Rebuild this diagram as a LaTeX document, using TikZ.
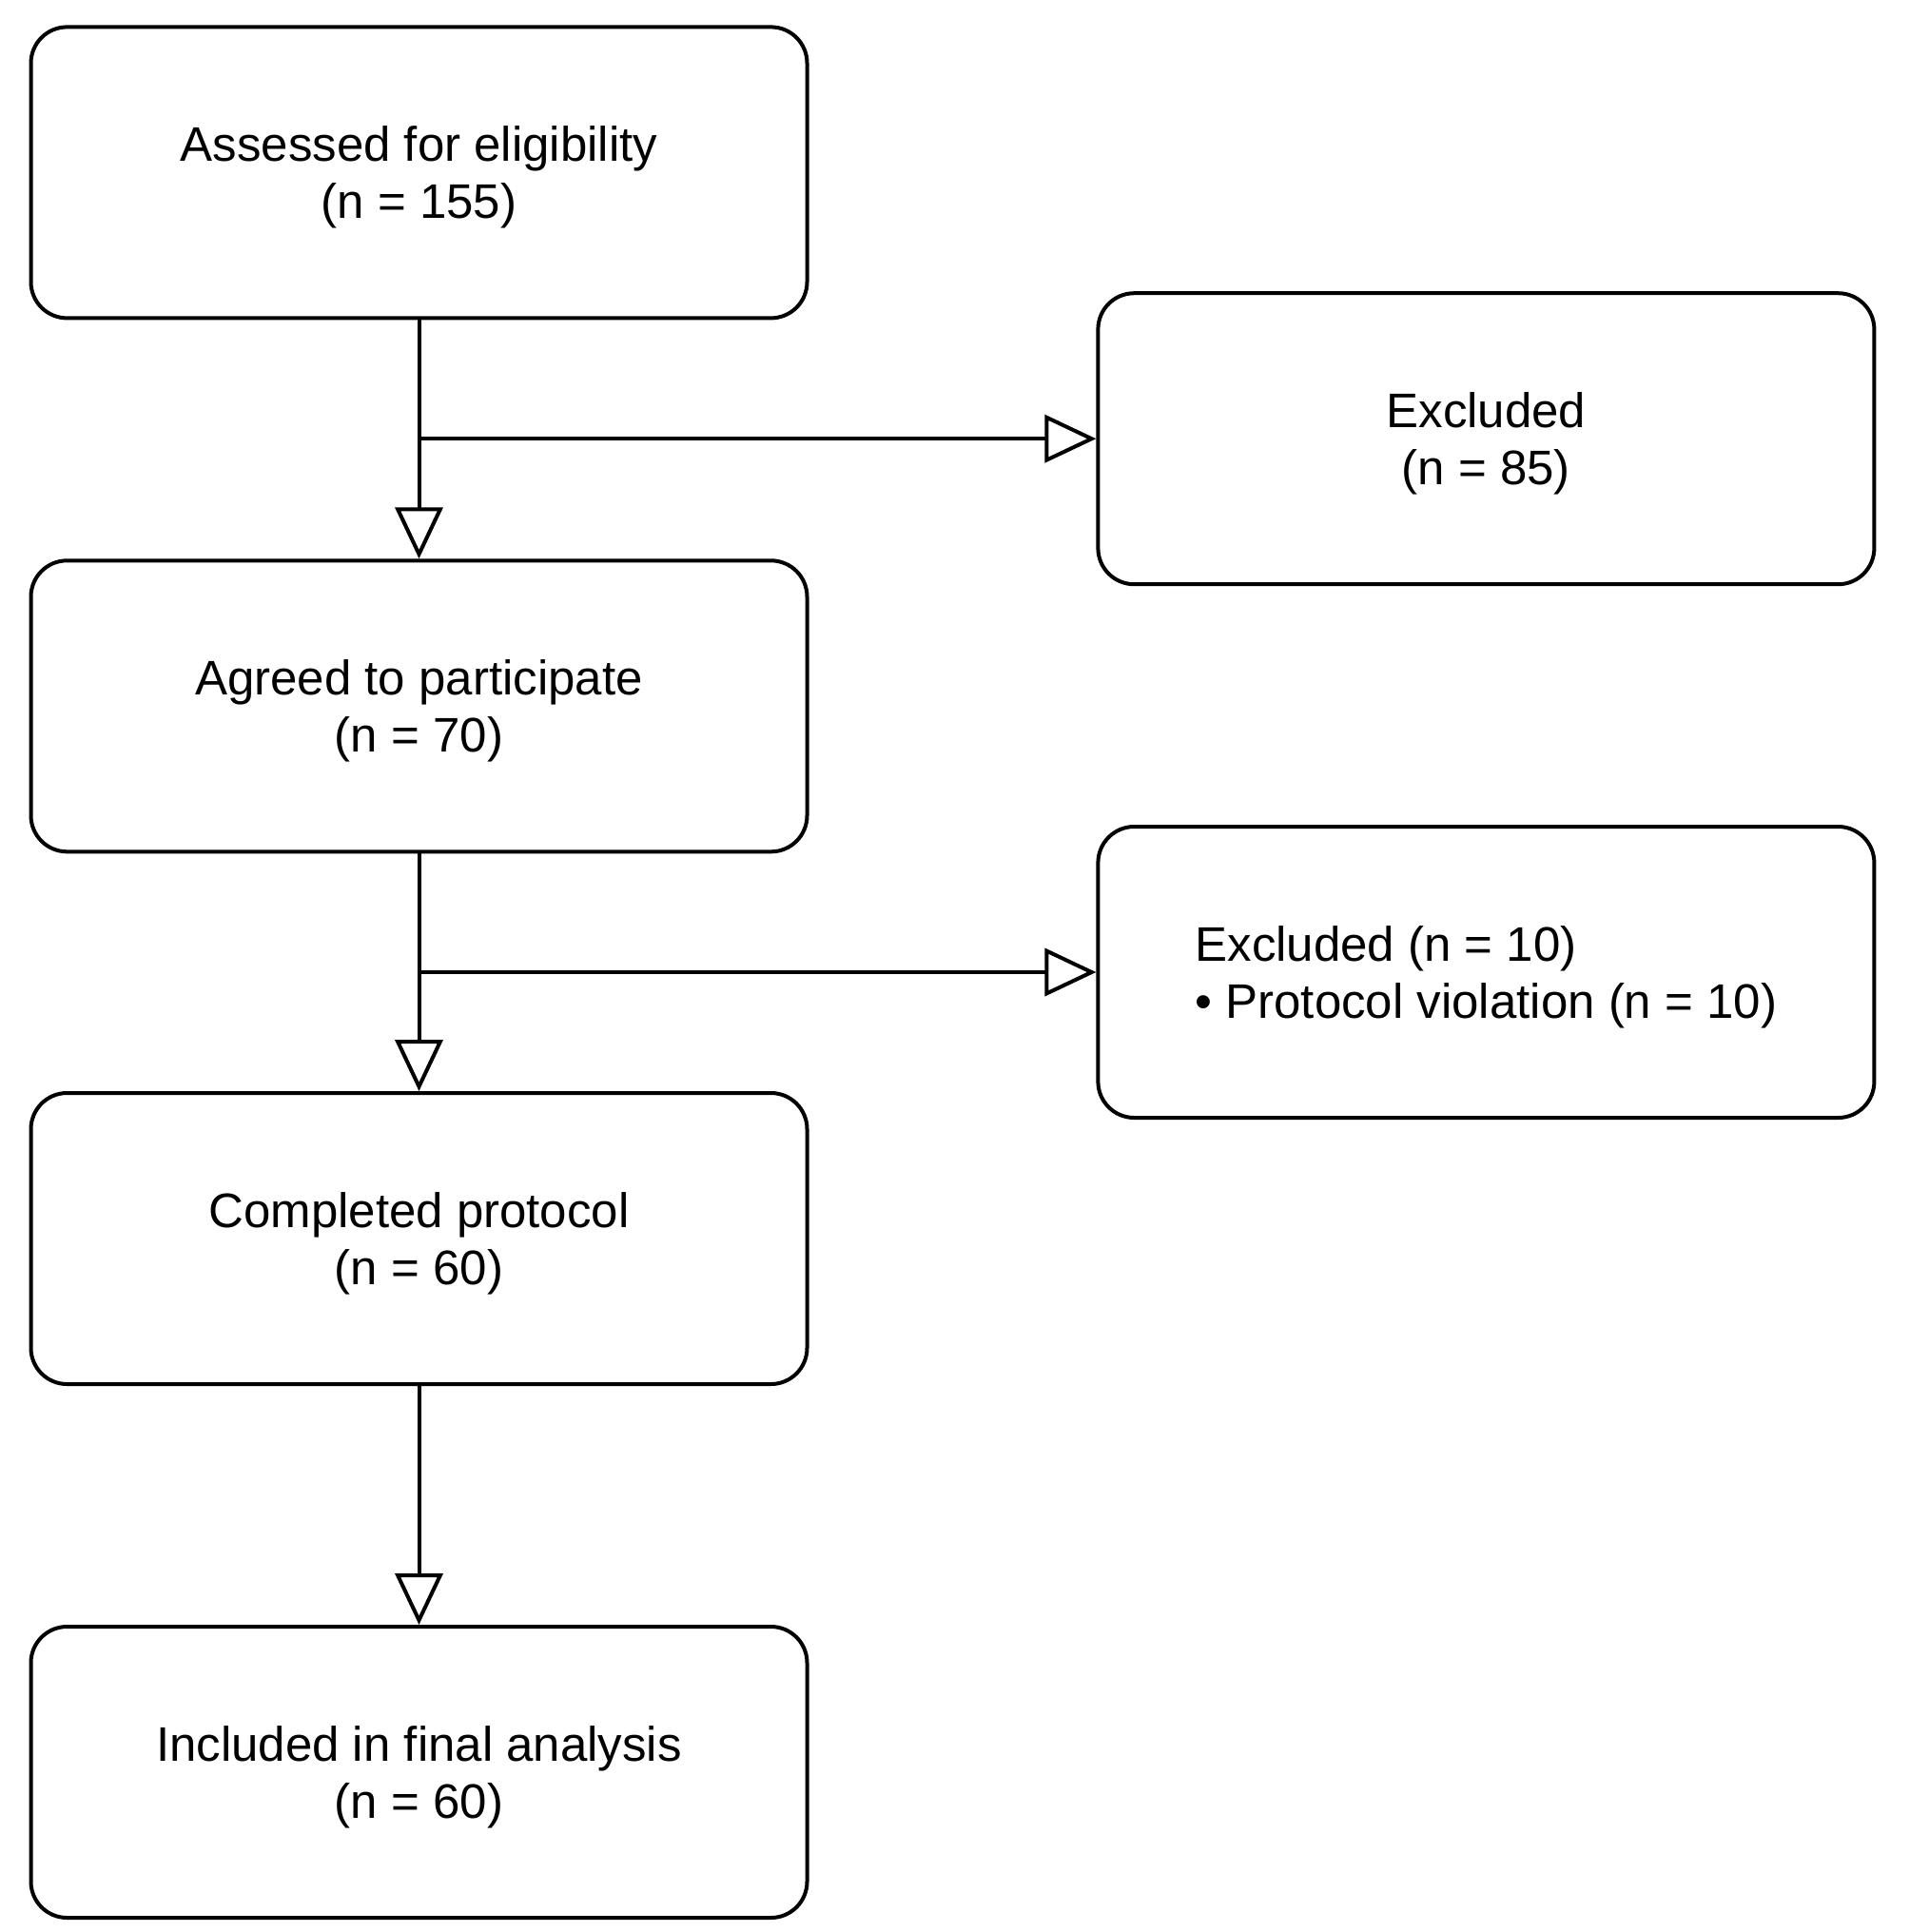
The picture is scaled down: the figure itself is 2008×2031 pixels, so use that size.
\documentclass[tikz,border=0pt]{standalone}
\usepackage{fontspec}
\setmainfont{Liberation Sans}
\usetikzlibrary{arrows.meta}
\newcommand{\topstrut}{\rule{0pt}{23.8pt}}
\begin{document}
\begin{tikzpicture}[x=0.5pt,y=-0.5pt,
  box/.style={draw=black, line width=2pt, rounded corners=19pt, minimum width=408pt, minimum height=153pt, inner sep=0pt, align=center, font=\fontsize{25.5pt}{30pt}\selectfont},
  conn/.style={line width=2pt, -{Triangle[open, length=27pt, width=25pt, fill=white]}}]
\useasboundingbox (0,0) rectangle (2008,2031);
\node[box] (a) at (440.5,181.4) {\topstrut Assessed for eligibility\\(n = 155)};
\node[box] (b) at (440.5,742.3) {\topstrut Agreed to participate\\(n = 70)};
\node[box] (c) at (440.5,1302) {\topstrut Completed protocol\\(n = 60)};
\node[box] (d) at (440.5,1863) {\topstrut Included in final analysis\\(n = 60)};
\node[box] (e1) at (1562.4,461.2) {\topstrut Excluded\\(n = 85)};
\node[box, align=left] (e2) at (1562.4,1022) {\topstrut Excluded (n = 10)\\• Protocol violation (n = 10)};
\coordinate (b1) at (a.south |- e1.west);
\coordinate (b2) at (b.south |- e2.west);
\draw[conn] (a.south) -- (b.north);
\draw[conn] (b.south) -- (c.north);
\draw[conn] (c.south) -- (d.north);
\draw[conn] (b1) -- (e1.west);
\draw[conn] (b2) -- (e2.west);
\end{tikzpicture}
\end{document}
